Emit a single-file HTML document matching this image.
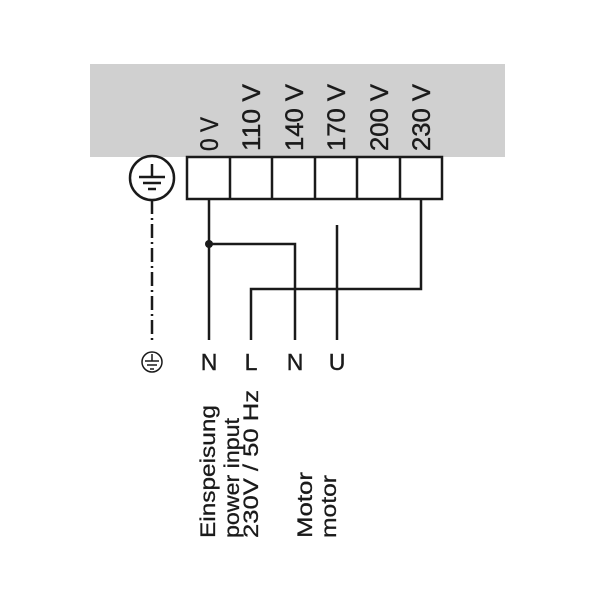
<!DOCTYPE html>
<html><head><meta charset="utf-8"><style>body{margin:0;background:#fff}svg{display:block}</style></head>
<body>
<svg width="600" height="600" viewBox="0 0 600 600" xmlns="http://www.w3.org/2000/svg" font-family="Liberation Sans, sans-serif" fill="#1a1a1a">
<rect x="90" y="64" width="415" height="93" fill="#d0d0d0"/>
<g font-size="25" stroke="#1a1a1a" stroke-width="0.4">
<text transform="translate(218,151) rotate(-90)" textLength="34" lengthAdjust="spacingAndGlyphs">0 V</text>
<text transform="translate(260,151) rotate(-90)" textLength="67" lengthAdjust="spacingAndGlyphs">110 V</text>
<text transform="translate(303,151) rotate(-90)" textLength="67" lengthAdjust="spacingAndGlyphs">140 V</text>
<text transform="translate(345,151) rotate(-90)" textLength="67" lengthAdjust="spacingAndGlyphs">170 V</text>
<text transform="translate(388,151) rotate(-90)" textLength="67" lengthAdjust="spacingAndGlyphs">200 V</text>
<text transform="translate(430,151) rotate(-90)" textLength="67" lengthAdjust="spacingAndGlyphs">230 V</text>
</g>
<g fill="none" stroke="#1a1a1a" stroke-width="2.5">
<rect x="187" y="157" width="255" height="42" fill="#fff"/>
<line x1="230" y1="157" x2="230" y2="199"/><line x1="272" y1="157" x2="272" y2="199"/>
<line x1="315" y1="157" x2="315" y2="199"/><line x1="357" y1="157" x2="357" y2="199"/>
<line x1="400" y1="157" x2="400" y2="199"/>
<circle cx="152" cy="178" r="22"/>
<line x1="139" y1="177" x2="165" y2="177"/><line x1="152" y1="164" x2="152" y2="177"/>
<line x1="143" y1="183" x2="161" y2="183"/><line x1="148" y1="189" x2="156" y2="189"/>
<line x1="152" y1="200" x2="152" y2="340" stroke-dasharray="14,4,2,4"/>
<line x1="209" y1="199" x2="209" y2="340"/>
<polyline points="209,244 295,244 295,340"/>
<line x1="337" y1="225" x2="337" y2="340"/>
<polyline points="251,340 251,289 421,289 421,199"/>
<circle cx="152" cy="362" r="10" stroke-width="1.5"/>
<g stroke-width="1.5"><line x1="145" y1="361" x2="159" y2="361"/><line x1="152" y1="354" x2="152" y2="361"/><line x1="147" y1="365" x2="157" y2="365"/><line x1="150" y1="369" x2="154" y2="369"/></g>
</g>
<circle cx="209" cy="244" r="4"/>
<g font-size="23" text-anchor="middle" stroke="#1a1a1a" stroke-width="0.4">
<text x="209" y="370">N</text><text x="251" y="370">L</text><text x="295" y="370">N</text><text x="337" y="370">U</text>
</g>
<g font-size="21" stroke="#1a1a1a" stroke-width="0.3">
<text transform="translate(215,538) rotate(-90)" textLength="133" lengthAdjust="spacingAndGlyphs">Einspeisung</text>
<text transform="translate(239,538) rotate(-90)" textLength="120" lengthAdjust="spacingAndGlyphs">power input</text>
<text transform="translate(258,538) rotate(-90)" textLength="148" lengthAdjust="spacingAndGlyphs">230V / 50 Hz</text>
<text transform="translate(312,538) rotate(-90)" textLength="66" lengthAdjust="spacingAndGlyphs">Motor</text>
<text transform="translate(336,538) rotate(-90)" textLength="63" lengthAdjust="spacingAndGlyphs">motor</text>
</g>
</svg>
</body></html>
